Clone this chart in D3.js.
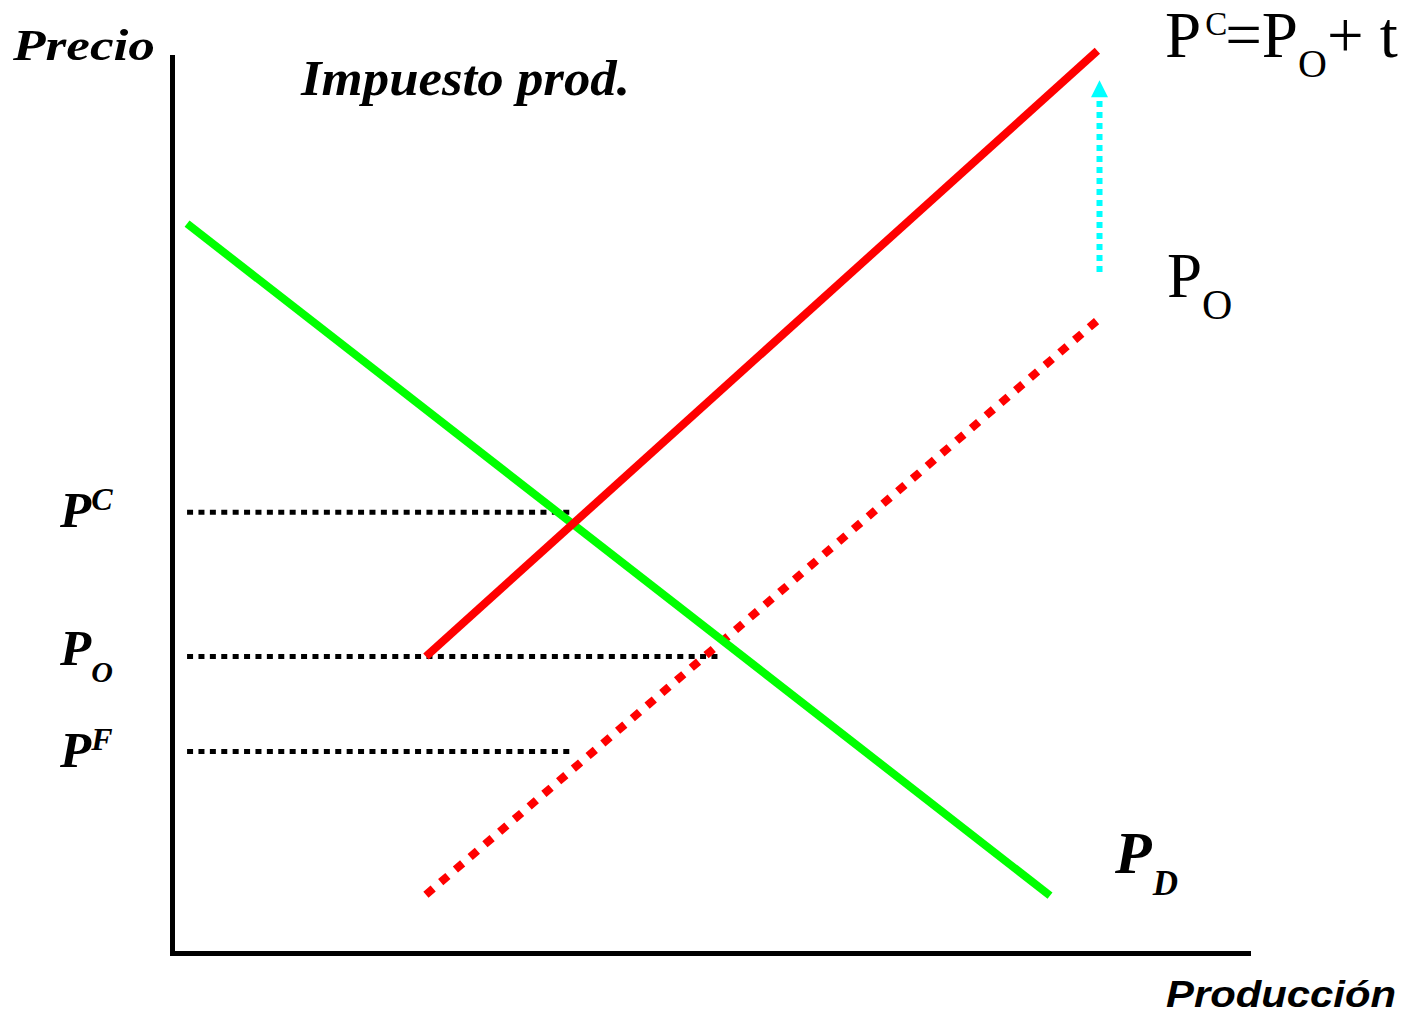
<!DOCTYPE html>
<html><head><meta charset="utf-8">
<script src="https://cdn.jsdelivr.net/npm/d3@7"></script>
<style>html,body{margin:0;padding:0;background:#fff;overflow:hidden;} svg{display:block;}</style>
</head><body>
<svg id="chart" width="1410" height="1015"></svg>
<script>
// ---- data (quantity 0-100, price 0-100) ----
const demandCurve = [[1.4, 81.4], [81.6, 6.4]];           // P_D
const supplyTaxCurve = [[23.6, 33.1], [86.0, 100.7]];     // P^C = P_O + t
const supplyCurve = [[23.6, 6.5], [86.0, 70.6]];          // P_O
const priceLevels = [49.2, 33.1, 22.5];                   // P^C, P_O, P^F
const priceLabelBase = ["P", "P", "P"];
const priceLabelSup = ["C", "", "F"];
const priceLabelSub = ["", "O", ""];
const guideStart = 1.4;
const guideEnds = [37.2, 50.7, 37.2];
const taxArrow = [[86.2, 76.0], [86.2, 97.4]];
const axisTitles = ["Precio", "Producción"];
const chartTitle = "Impuesto prod.";

// ---- scales ----
const svg = d3.select("#chart");
const x = d3.scaleLinear().domain([0, 100]).range([172, 1248]);
const y = d3.scaleLinear().domain([0, 100]).range([953, 57]);
const line = d3.line().x(d => x(d[0])).y(d => y(d[1]));

const serif = "'Liberation Serif','Times New Roman',serif";
const sans = "'Liberation Sans',Arial,sans-serif";

// ---- axes ----
svg.append("g").attr("transform", `translate(${x(0)},0)`)
  .call(d3.axisLeft(y).tickValues([]).tickSizeOuter(0));
svg.append("g").attr("transform", `translate(0,${y(0)})`)
  .call(d3.axisBottom(x).tickValues([]).tickSizeOuter(0));
svg.selectAll(".domain").attr("stroke", "#000").attr("stroke-width", 5).attr("stroke-linecap", "square");

// ---- guide dotted lines ----
svg.append("g").selectAll("line").data(priceLevels).join("line")
  .attr("x1", x(guideStart)).attr("x2", (d, i) => x(guideEnds[i]))
  .attr("y1", d => y(d)).attr("y2", d => y(d))
  .attr("stroke", "#000").attr("stroke-width", 5).attr("stroke-dasharray", "6,5.4");

// ---- curves ----
svg.append("path").datum(supplyCurve).attr("d", line)
  .attr("fill", "none").attr("stroke", "#ff0000").attr("stroke-width", 8)
  .attr("stroke-dasharray", "9.5,9.9");
svg.append("path").datum(demandCurve).attr("d", line)
  .attr("fill", "none").attr("stroke", "#00ff00").attr("stroke-width", 8);
svg.append("path").datum(supplyTaxCurve).attr("d", line)
  .attr("fill", "none").attr("stroke", "#ff0000").attr("stroke-width", 8);

// ---- tax arrow ----
const headLen = 17, headHalf = 8.5;
const ax = x(taxArrow[0][0]), ay0 = y(taxArrow[0][1]), ay1 = y(taxArrow[1][1]);
svg.append("line").attr("x1", ax).attr("x2", ax).attr("y1", ay0).attr("y2", ay1 + headLen)
  .attr("stroke", "#00ffff").attr("stroke-width", 6).attr("stroke-dasharray", "6,5");
svg.append("path")
  .attr("d", `M${ax},${ay1}L${ax + headHalf},${ay1 + headLen}L${ax - headHalf},${ay1 + headLen}Z`)
  .attr("fill", "#00ffff");

// ---- texts ----
svg.append("text").attr("x", 13).attr("y", 60)
  .attr("font-family", serif).attr("font-weight", "bold").attr("font-style", "italic")
  .attr("font-size", 44).attr("textLength", 142).attr("lengthAdjust", "spacingAndGlyphs")
  .text(axisTitles[0]);
svg.append("text").attr("x", 1166).attr("y", 1007)
  .attr("font-family", sans).attr("font-weight", "bold").attr("font-style", "italic")
  .attr("font-size", 37).attr("textLength", 230).attr("lengthAdjust", "spacingAndGlyphs")
  .text(axisTitles[1]);
svg.append("text").attr("x", 301).attr("y", 95)
  .attr("font-family", serif).attr("font-weight", "bold").attr("font-style", "italic")
  .attr("font-size", 51).attr("textLength", 329).attr("lengthAdjust", "spacingAndGlyphs")
  .text(chartTitle);

// formula P^C = P_O + t
const f = svg.append("text").attr("x", 1165).attr("y", 57)
  .attr("font-family", serif).attr("font-size", 65).attr("fill", "#000");
f.append("tspan").text("P");
f.append("tspan").attr("font-size", 33).attr("dy", -22).attr("dx", 4).text("C");
f.append("tspan").attr("dy", 22).attr("dx", -2).text("=P");
f.append("tspan").attr("font-size", 40).attr("dy", 20).text("O");
f.append("tspan").attr("dy", -20).text("+ t");

// P_O right label
const po = svg.append("text").attr("x", 1167).attr("y", 297)
  .attr("font-family", serif).attr("font-size", 63);
po.append("tspan").text("P");
po.append("tspan").attr("font-size", 42).attr("dy", 22).text("O");

// P_D label
const pd = svg.append("text").attr("x", 1115).attr("y", 873)
  .attr("font-family", serif).attr("font-weight", "bold").attr("font-style", "italic").attr("font-size", 60);
pd.append("tspan").text("P");
pd.append("tspan").attr("font-size", 35).attr("dy", 22).attr("dx", 1).text("D");

// price labels on vertical axis
const labelDy = [15, 9, 16];
priceLevels.forEach((lv, i) => {
  const t = svg.append("text").attr("x", 60).attr("y", y(lv) + labelDy[i])
    .attr("font-family", serif).attr("font-weight", "bold").attr("font-style", "italic").attr("font-size", 51);
  t.append("tspan").text(priceLabelBase[i]);
  if (priceLabelSup[i]) t.append("tspan").attr("font-size", 32).attr("dy", -17).text(priceLabelSup[i]);
  if (priceLabelSub[i]) t.append("tspan").attr("font-size", 30).attr("dy", 17).text(priceLabelSub[i]);
});
</script>
</body></html>
